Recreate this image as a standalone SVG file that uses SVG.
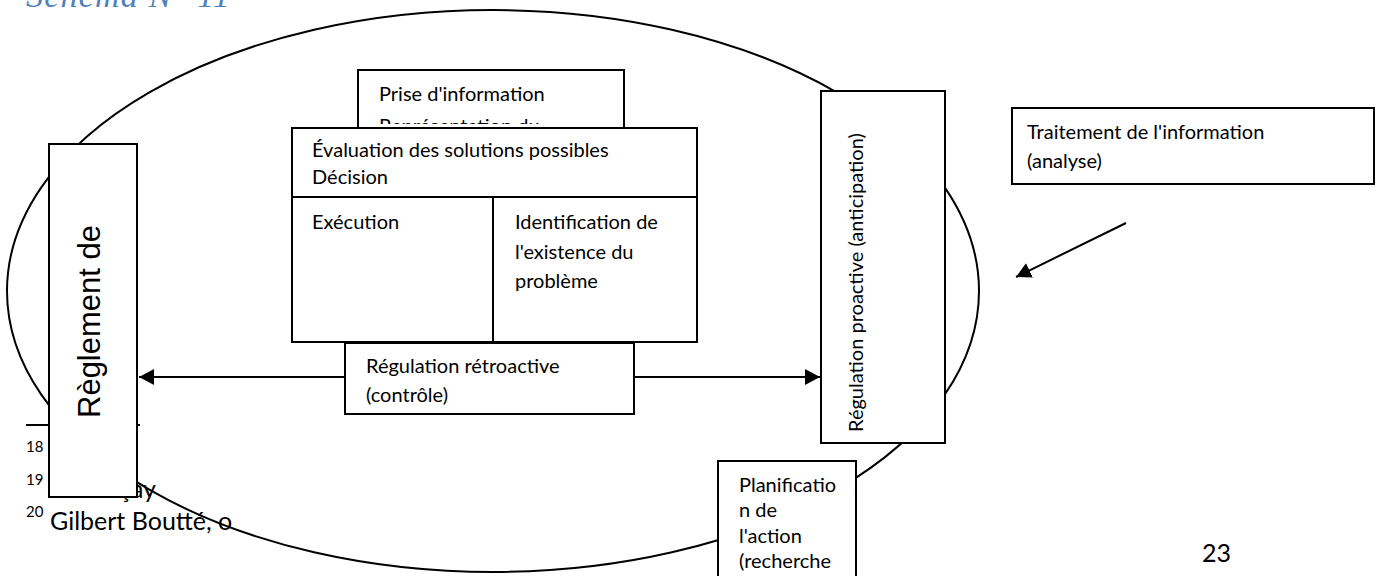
<svg xmlns="http://www.w3.org/2000/svg" width="1381" height="576" viewBox="0 0 1381 576">
  <style>
    .box{fill:#fff;stroke:#000;stroke-width:2}
    .t{font-family:Lato,"Liberation Sans",sans-serif;font-size:20px;fill:#000}
    .fn{font-family:Lato,"Liberation Sans",sans-serif;font-size:25px;fill:#000}
    .sup{font-family:Lato,"Liberation Sans",sans-serif;font-size:15px;fill:#000}
    .conn{stroke:#000;stroke-width:2;fill:none}
  </style>
  <defs>
    <marker id="head" markerUnits="userSpaceOnUse" markerWidth="16" markerHeight="16" refX="15" refY="8" orient="auto">
      <path d="M0,0 L15,8 L0,16 z" fill="#000"/>
    </marker>
    <clipPath id="priseClip">
      <rect x="358" y="70" width="266" height="54"/>
    </clipPath>
  </defs>

  <!-- heading -->
  <text x="26" y="7" font-family="'Liberation Serif',serif" font-style="italic" font-size="34" fill="#4f81bd" textLength="204">Schéma N° 11</text>

  <!-- outer loop -->
  <ellipse id="cycle" cx="493" cy="291" rx="486" ry="281" fill="none" stroke="#000" stroke-width="2"/>

  <!-- footnotes -->
  <g id="footnotes">
    <line x1="26" y1="425" x2="140" y2="425" stroke="#000" stroke-width="2"/>
    <text class="sup" x="26" y="452">18</text>
    <text class="sup" x="26" y="485">19</text>
    <text class="fn" x="119" y="498">çay</text>
    <text class="sup" x="26" y="517">20</text>
    <text class="fn" x="50" y="530">Gilbert Boutté, o</text>
  </g>

  <text class="fn" x="1202" y="562">23</text>

  <g id="reglement">
    <rect class="box" x="49" y="144" width="88" height="353"/>
    <text transform="translate(100,418) rotate(-90)" font-family="'Liberation Sans',Arial,sans-serif" font-size="31">Règlement de</text>
  </g>

  <g id="prise">
    <rect class="box" x="358" y="70" width="266" height="70"/>
    <g clip-path="url(#priseClip)">
      <text class="t" x="379" y="100.5">Prise d'information</text>
      <text class="t" x="379" y="133">Représentation du</text>
    </g>
  </g>

  <g id="evaluation">
    <rect class="box" x="292" y="128" width="405" height="69"/>
    <text class="t" x="312" y="157">Évaluation des solutions possibles</text>
    <text class="t" x="312" y="184">Décision</text>
  </g>

  <g id="execution">
    <rect class="box" x="292" y="197" width="201" height="145"/>
    <text class="t" x="312" y="229">Exécution</text>
  </g>

  <g id="identification">
    <rect class="box" x="493" y="197" width="204" height="145"/>
    <text class="t" x="515" y="229">Identification de</text>
    <text class="t" x="515" y="259">l'existence du</text>
    <text class="t" x="515" y="288">problème</text>
  </g>

  <g id="retroactive">
    <rect class="box" x="345" y="343" width="289" height="71"/>
    <text class="t" x="366" y="373">Régulation rétroactive</text>
    <text class="t" x="366" y="402">(contrôle)</text>
  </g>

  <g id="proactive">
    <rect class="box" x="821" y="91" width="124" height="352"/>
    <text class="t" transform="translate(863,432) rotate(-90)">Régulation proactive (anticipation)</text>
  </g>

  <g id="traitement">
    <rect class="box" x="1012" y="108" width="362" height="76"/>
    <text class="t" x="1027" y="139">Traitement de l'information</text>
    <text class="t" x="1027" y="168">(analyse)</text>
  </g>

  <g id="planification">
    <rect class="box" x="718" y="461" width="138" height="130"/>
    <text class="t" x="739" y="492">Planificatio</text>
    <text class="t" x="739" y="517">n de</text>
    <text class="t" x="739" y="543">l'action</text>
    <text class="t" x="739" y="568">(recherche</text>
  </g>

  <g id="connectors">
    <line class="conn" x1="345" y1="377" x2="139" y2="377" marker-end="url(#head)"/>
    <line class="conn" x1="634" y1="377" x2="820" y2="377" marker-end="url(#head)"/>
    <line class="conn" x1="1126" y1="223" x2="1016" y2="277" marker-end="url(#head)"/>
  </g>
</svg>
